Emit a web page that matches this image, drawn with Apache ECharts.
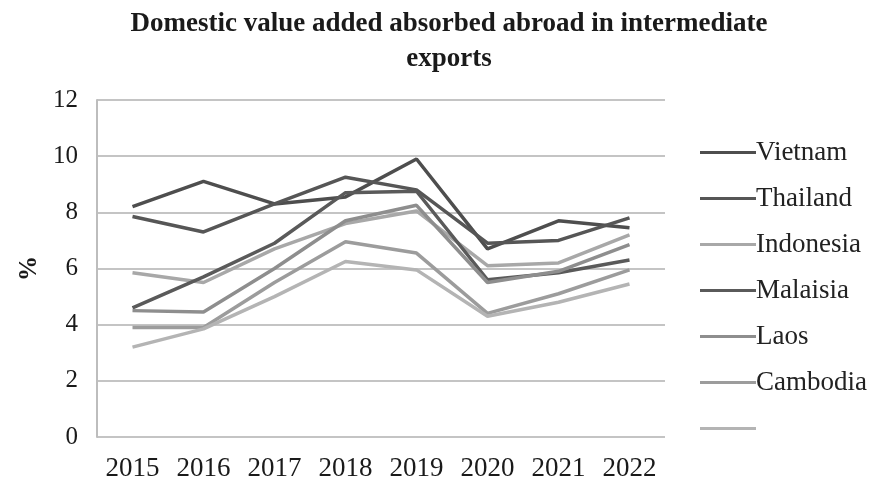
<!DOCTYPE html>
<html>
<head>
<meta charset="utf-8">
<script src="https://cdn.jsdelivr.net/npm/echarts@6/dist/echarts.min.js"></script>
<style>html,body{margin:0;padding:0;background:#fff}#c{width:876px;height:487px}</style>
</head>
<body>
<div id="c"></div>
<script>
var categories = ['2015','2016','2017','2018','2019','2020','2021','2022'];
var seriesNames = ['Vietnam','Thailand','Indonesia','Malaisia','Laos','Cambodia',' '];
var vietnam   = [8.2, 9.1, 8.3, 8.55, 9.9, 6.7, 7.7, 7.45];
var thailand  = [7.85, 7.3, 8.3, 9.25, 8.8, 6.9, 7.0, 7.8];
var indonesia = [5.85, 5.5, 6.7, 7.6, 8.05, 6.1, 6.2, 7.2];
var malaisia  = [4.6, 5.7, 6.9, 8.7, 8.75, 5.6, 5.85, 6.3];
var laos      = [4.5, 4.45, 6.0, 7.7, 8.25, 5.5, 5.9, 6.85];
var cambodia  = [3.9, 3.9, 5.5, 6.95, 6.55, 4.4, 5.1, 5.95];
var unnamed   = [3.2, 3.85, 5.0, 6.25, 5.95, 4.3, 4.8, 5.45];
var yTicks = [0, 2, 4, 6, 8, 10, 12];

var values = [vietnam, thailand, indonesia, malaisia, laos, cambodia, unnamed];
var colors = ['#4e4e4e','#565656','#a8a8a8','#5a5a5a','#8e8e8e','#9c9c9c','#b4b4b4'];

var chart = echarts.init(document.getElementById('c'));
var serif = '"Liberation Serif", "DejaVu Serif", serif';
chart.setOption({
  animation: false,
  backgroundColor: '#fff',
  title: {
    text: 'Domestic value added absorbed abroad in intermediate\nexports',
    left: 444, textAlign: 'center', top: 2,
    textStyle: { fontFamily: serif, fontWeight: 'bold', fontSize: 27, lineHeight: 35, color: '#1a1a1a' }
  },
  legend: {
    orient: 'vertical', left: 695, top: 134,
    icon: 'rect', itemWidth: 56, itemHeight: 3, itemGap: 19,
    data: seriesNames,
    textStyle: { fontFamily: serif, fontSize: 27, lineHeight: 27, color: '#222', padding: [0,0,0,-5] }
  },
  grid: { left: 97, right: 211, top: 100, bottom: 50 },
  xAxis: {
    type: 'category', data: categories, boundaryGap: true,
    axisLine: { show: false }, axisTick: { show: false },
    axisLabel: { fontFamily: serif, fontSize: 27, color: '#1a1a1a', margin: 18 }
  },
  yAxis: {
    type: 'value', min: 0, max: 12, interval: 2,
    name: '%', nameLocation: 'middle', nameRotate: 90, nameGap: 54,
    nameTextStyle: { fontFamily: serif, fontWeight: 'bold', fontSize: 25, color: '#1a1a1a' },
    axisLine: { show: true, lineStyle: { color: '#bdbdbd', width: 2 } },
    axisTick: { show: false },
    axisLabel: { fontFamily: serif, fontSize: 25, color: '#1a1a1a', margin: 19,
      formatter: function (v) { return yTicks.indexOf(v) >= 0 ? String(v) : ''; } },
    splitLine: { lineStyle: { color: '#c4c4c4', width: 2 } }
  },
  series: seriesNames.map(function (n, i) {
    return {
      name: n, type: 'line', data: values[i], symbol: 'none',
      lineStyle: { color: colors[i], width: 3.5 }, itemStyle: { color: colors[i] }
    };
  })
});
</script>
</body>
</html>
